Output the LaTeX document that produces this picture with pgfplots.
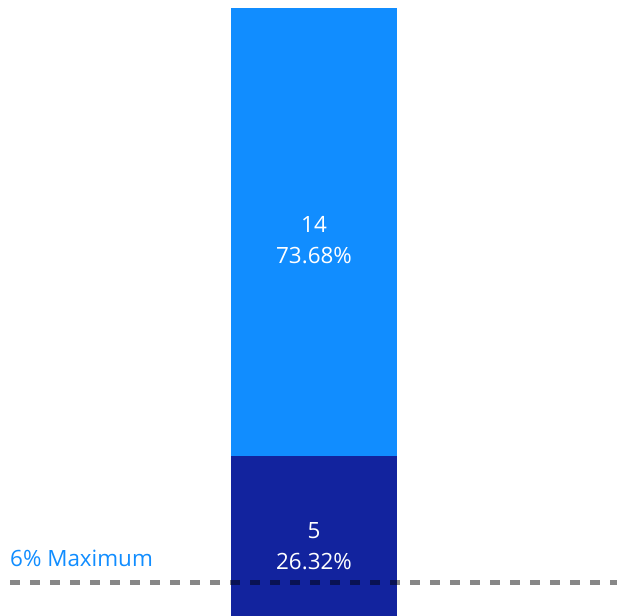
\documentclass[border=0pt]{standalone}
\usepackage{pgfplots}
\pgfplotsset{compat=1.18}
\usepackage{fontspec}
\setmainfont{Open Sans}
\definecolor{lightb}{HTML}{118DFF}
\definecolor{darkb}{HTML}{12239E}
\begin{document}
\begin{tikzpicture}
\begin{axis}[
  scale only axis, width=617bp, height=616bp,
  xmin=0, xmax=617, ymin=0, ymax=19.25,
  hide axis, clip=false,
  ybar stacked, bar width=166, reverse stacked plots=false,
]
\addplot[fill=darkb, draw=none] coordinates {(314,5)};
\addplot[fill=lightb, draw=none] coordinates {(314,14)};
\addplot[ybar=0pt, sharp plot, draw=black, draw opacity=0.47, line width=5.5bp, dash pattern=on 10bp off 10bp, forget plot, stack plots=false] coordinates {(10,1.05) (625,1.05)};
\coordinate (t1) at (axis cs:314,11.75);
\coordinate (t2) at (axis cs:314,2.19);
\coordinate (t3) at (axis cs:10,1.81);
\end{axis}
\node[font=\fontsize{22.5}{31}\selectfont, text=white, align=center] at (t1) {14\\73.68\%};
\node[font=\fontsize{22.5}{31}\selectfont, text=white, align=center] at (t2) {5\\26.32\%};
\node[font=\fontsize{22.5}{24}\selectfont, text=lightb, anchor=west, inner sep=0pt] at (t3) {6\% Maximum};
\pgfresetboundingbox
\path (0,0) rectangle (617bp,616bp);
\end{tikzpicture}
\end{document}
